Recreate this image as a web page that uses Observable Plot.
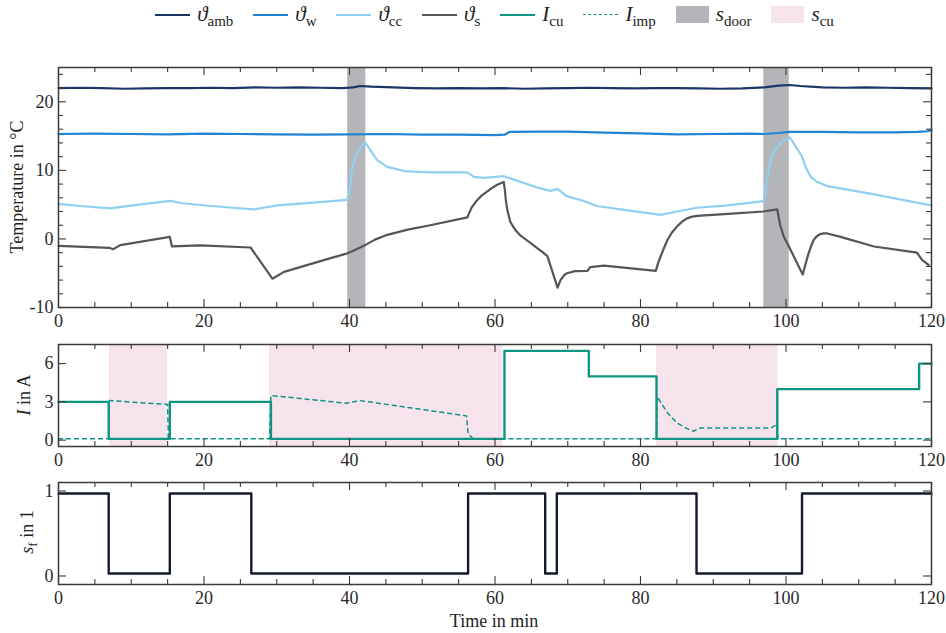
<!DOCTYPE html>
<html><head><meta charset="utf-8">
<script src="https://cdn.jsdelivr.net/npm/d3@7"></script>
<script src="https://cdn.jsdelivr.net/npm/@observablehq/plot@0.6"></script>
<style>
body{margin:0;background:#fff;}
#wrap{position:relative;width:946px;height:633px;font-family:"Liberation Serif","Times New Roman","DejaVu Serif",serif;color:#222;overflow:hidden;}
#wrap svg{position:absolute;left:0;}
#legend{position:absolute;top:2px;left:58px;width:873px;display:flex;justify-content:center;align-items:center;gap:20px;font-size:21px;}
.li{display:flex;align-items:center;gap:7px;white-space:nowrap;}
.sw{width:35px;height:0;border-top:2.5px solid;}
.box{width:33px;height:17px;}
sub{font-size:15px;vertical-align:-5px;line-height:0;}
.yl{position:absolute;font-size:18px;white-space:nowrap;transform:translate(-50%,-50%) rotate(-90deg);}
.yl sub{font-size:13px;vertical-align:-4px;}
.xl{position:absolute;font-size:18px;white-space:nowrap;transform:translate(-50%,-50%);}
</style></head><body><div id="wrap"></div>
<script>
// ---------- data ----------
const xMajorTicks = [0, 20, 40, 60, 80, 100, 120];
const tempTicks = [-10, 0, 10, 20];
const currTicks = [0, 3, 6];
const sfTicks = [0, 1];

const doorStart = [39.75, 96.95];
const doorEnd   = [42.25, 100.45];
const cuStart = [7.0, 29.0, 82.2];
const cuEnd   = [15.0, 61.1, 98.9];

const ambT = [0,3,6,9,12,15,18,21,24,27,30,33,36,39,40.5,41.5,43,46,49,52,55,58,61,64,67,70,73,76,79,82,85,88,91,94,97,99,100.5,102,105,108,111,114,117,120];
const ambV = [22.0,22.05,22.0,21.9,21.95,22.0,22.0,22.05,22.0,22.1,22.05,22.1,22.05,22.0,22.1,22.3,22.2,22.1,22.0,21.95,22.0,21.95,22.0,21.9,21.95,22.0,22.05,22.0,21.95,22.0,22.0,21.95,21.9,21.95,22.1,22.35,22.45,22.3,22.1,22.05,22.1,22.05,22.0,21.95];

const wT = [0,5,10,15,20,25,30,35,40,45,50,55,60,61.3,62,66,70,75,80,85,90,95,97,99,100.5,105,110,115,118,119.5,120];
const wV = [15.3,15.35,15.3,15.25,15.35,15.3,15.25,15.2,15.25,15.3,15.2,15.2,15.15,15.2,15.6,15.65,15.65,15.5,15.4,15.25,15.3,15.35,15.3,15.45,15.6,15.6,15.55,15.55,15.6,15.7,15.9];

const ccT = [0,3,7.1,11,15.4,17,21,26.8,30.1,35,39.7,40.1,40.3,40.8,41.5,42.2,42.9,43.8,45.2,47.5,51.1,56.2,57.1,58.5,61.2,63.0,65.8,67.6,68.6,69.9,72,74,78,82.8,85,87.8,92,96.95,97.3,98.0,99.2,100.5,101.5,102.2,102.7,103.4,104.3,105.7,111.6,116,120];
const ccV = [5.1,4.8,4.45,5.0,5.55,5.2,4.8,4.3,4.9,5.3,5.7,7.6,10.0,12.0,13.4,14.0,12.9,11.5,10.5,9.9,9.7,9.7,9.05,8.9,9.15,8.5,7.5,7.0,7.3,6.2,5.6,4.8,4.2,3.5,4.0,4.55,4.9,5.5,8.1,12.0,14.0,14.85,13.2,12.0,10.5,9.05,8.3,7.7,6.6,5.7,4.9];

const sT = [0,7.0,7.5,8.5,15.3,15.6,19.5,26.4,29.4,31,37.4,39.7,40.6,42.2,43.5,45.2,48,51.1,
  56.2,56.5,56.8,57.5,58.2,58.9,59.6,60.3,61.2,61.35,61.5,61.7,62.1,62.5,62.8,63.4,64.0,65.0,65.8,66.5,67.2,68.6,69.0,69.5,69.9,71,72.7,73.1,75,
  82.1,82.4,82.75,83.2,83.7,84.3,85.0,85.7,86.4,87.1,87.8,92,96.9,98.8,99.2,99.7,100.3,101.1,101.7,102.3,102.7,103.1,103.5,103.8,104.2,104.7,105.2,105.7,107.5,112.1,118.0,118.7,119.6];
const sV = [-1.0,-1.3,-1.5,-0.9,0.3,-1.1,-0.95,-1.25,-5.8,-4.8,-2.8,-2.1,-1.7,-0.87,-0.1,0.6,1.35,2.0,
  3.15,3.9,4.6,5.6,6.35,6.9,7.45,7.9,8.3,7.2,5.6,4.2,2.5,1.8,1.3,0.6,0.1,-0.7,-1.35,-1.9,-2.5,-7.1,-6.0,-5.3,-5.0,-4.7,-4.65,-4.1,-3.9,
  -4.65,-3.6,-2.6,-1.4,-0.15,0.9,1.8,2.5,3.0,3.25,3.35,3.65,4.0,4.3,2.0,0.33,-0.9,-2.6,-3.9,-5.2,-3.6,-2.1,-0.9,-0.15,0.35,0.7,0.8,0.8,0.3,-1.1,-2.0,-3.05,-3.8];

const icuT = [0,6.9,15.3,29.2,61.3,72.9,82.2,98.8,118.3,120];
const icuV = [3,0.1,3,0.1,7,5,0.1,4,6,6];

const impT = [0,6.9,7.0,15.0,15.1,29.0,29.2,39.5,41.5,56.1,56.3,57.0,82.2,82.3,83.7,85.0,86.4,87.3,88.2,97.9,98.8,98.9,120];
const impV = [0.1,0.1,3.1,2.8,0.1,0.1,3.5,2.9,3.1,1.9,0.5,0.1,0.1,3.4,2.15,1.35,0.9,0.7,0.95,0.95,1.22,0.1,0.1];

const sfT = [0,6.9,15.3,26.5,56.3,66.9,68.5,87.7,102.2,120];
const sfV = [0.97,0.03,0.97,0.03,0.97,0.03,0.97,0.03,0.97,0.97];

// ---------- helpers ----------
const C = {amb:"#1b3566", w:"#2183d3", cc:"#8fd0f1", s:"#555559", cu:"#0f9682", door:"#b4b5b9", scu:"#f6e3ec", sf:"#141a2e", frame:"#3a3a3a"};
const FONT = '"Liberation Serif", "Times New Roman", "DejaVu Serif", serif';
const pts = (T, V) => T.map((t, i) => ({t, v: V[i]}));
const ivals = (S, E) => S.map((s, i) => ({s, e: E[i]}));
const xMinor = d3.range(0, 121, 5).filter(d => !xMajorTicks.includes(d));
const W = 946, ML = 58, MR = 15;
const FW = W - ML - MR;
const fmt = d => String(d);

function frameTicks(fh, yMaj, yMin) {
  const s = {stroke: C.frame, strokeWidth: 1.1};
  const m = [
    Plot.tickX(xMajorTicks, {x: d => d, insetTop: fh - 8, ...s}),
    Plot.tickX(xMajorTicks, {x: d => d, insetBottom: fh - 8, ...s}),
    Plot.tickX(xMinor, {x: d => d, insetTop: fh - 5, ...s}),
    Plot.tickX(xMinor, {x: d => d, insetBottom: fh - 5, ...s}),
    Plot.tickY(yMaj, {y: d => d, insetRight: FW - 8, ...s}),
    Plot.tickY(yMaj, {y: d => d, insetLeft: FW - 8, ...s}),
  ];
  if (yMin.length) {
    m.push(Plot.tickY(yMin, {y: d => d, insetRight: FW - 5, ...s}));
    m.push(Plot.tickY(yMin, {y: d => d, insetLeft: FW - 5, ...s}));
  }
  return m;
}
function axes(yMaj) {
  return [
    Plot.axisX(xMajorTicks, {anchor: "bottom", tickSize: 0, tickPadding: 7, fontSize: 18, label: null, fill: "#2a2a2a", tickFormat: fmt, fontFamily: FONT}),
    Plot.axisY(yMaj, {anchor: "left", tickSize: 0, tickPadding: 5, fontSize: 18, label: null, fill: "#2a2a2a", tickFormat: fmt, fontFamily: FONT}),
  ];
}
const common = {width: W, marginLeft: ML, marginRight: MR, style: {fontFamily: FONT, fontSize: "18px", background: "transparent", overflow: "visible"}};
const xScale = {domain: [0, 120]};

const wrap = document.getElementById("wrap");

// ---------- panel 1 ----------
const tDom = [-10, 25];
const p1 = Plot.plot({
  ...common, height: 335, marginTop: 67, marginBottom: 28,
  x: xScale, y: {domain: tDom},
  marks: [
    Plot.rect(ivals(doorStart, doorEnd), {x1: "s", x2: "e", y1: () => tDom[0], y2: () => tDom[1], fill: C.door}),
    Plot.line(pts(ambT, ambV), {x: "t", y: "v", stroke: C.amb, strokeWidth: 2.2}),
    Plot.line(pts(wT, wV), {x: "t", y: "v", stroke: C.w, strokeWidth: 2.2}),
    Plot.line(pts(ccT, ccV), {x: "t", y: "v", stroke: C.cc, strokeWidth: 2.2}),
    Plot.line(pts(sT, sV), {x: "t", y: "v", stroke: C.s, strokeWidth: 2.2}),
    Plot.frame({stroke: C.frame, strokeWidth: 1.5}),
    ...frameTicks(240, tempTicks, d3.range(-10, 25.1, 2).filter(d => !tempTicks.includes(d))),
    ...axes(tempTicks)
  ]
});
p1.style.top = "0px";
wrap.appendChild(p1);

// ---------- panel 2 ----------
const iDom = [-0.5, 7.5];
const p2 = Plot.plot({
  ...common, height: 135, marginTop: 9, marginBottom: 24,
  x: xScale, y: {domain: iDom},
  marks: [
    Plot.rect(ivals(cuStart, cuEnd), {x1: "s", x2: "e", y1: () => iDom[0], y2: () => iDom[1], fill: C.scu}),
    Plot.line(pts(impT, impV), {x: "t", y: "v", stroke: C.cu, strokeWidth: 1.5, strokeDasharray: "4,4"}),
    Plot.line(pts(icuT, icuV), {x: "t", y: "v", stroke: C.cu, strokeWidth: 2.4, curve: "step-after"}),
    Plot.frame({stroke: C.frame, strokeWidth: 1.5}),
    ...frameTicks(102, currTicks, []),
    ...axes(currTicks)
  ]
});
p2.style.top = "335px";
wrap.appendChild(p2);

// ---------- panel 3 ----------
const fDom = [-0.1, 1.1];
const p3 = Plot.plot({
  ...common, height: 163, marginTop: 12, marginBottom: 49,
  x: xScale, y: {domain: fDom},
  marks: [
    Plot.line(pts(sfT, sfV), {x: "t", y: "v", stroke: C.sf, strokeWidth: 2.4, curve: "step-after"}),
    Plot.frame({stroke: C.frame, strokeWidth: 1.5}),
    ...frameTicks(102, sfTicks, []),
    ...axes(sfTicks)
  ]
});
p3.style.top = "470px";
wrap.appendChild(p3);

// ---------- legend & labels ----------
const legendItems = [
  {html: "<i>ϑ</i><sub>amb</sub>", type: "line", color: C.amb},
  {html: "<i>ϑ</i><sub>w</sub>", type: "line", color: C.w},
  {html: "<i>ϑ</i><sub>cc</sub>", type: "line", color: C.cc},
  {html: "<i>ϑ</i><sub>s</sub>", type: "line", color: C.s},
  {html: "<i>I</i><sub>cu</sub>", type: "line", color: C.cu},
  {html: "<i>I</i><sub>imp</sub>", type: "dash", color: C.cu},
  {html: "<i>s</i><sub>door</sub>", type: "box", color: C.door},
  {html: "<i>s</i><sub>cu</sub>", type: "box", color: C.scu},
];
const leg = document.createElement("div");
leg.id = "legend";
leg.innerHTML = legendItems.map(d => {
  const sw = d.type === "box" ? `<span class="box" style="background:${d.color}"></span>`
    : `<span class="sw" style="border-top-color:${d.color};${d.type === "dash" ? "border-top-style:dashed;border-top-width:1.5px;" : ""}"></span>`;
  return `<span class="li">${sw}<span>${d.html}</span></span>`;
}).join("");
wrap.appendChild(leg);

function label(cls, html, x, y) {
  const el = document.createElement("div");
  el.className = cls; el.innerHTML = html;
  el.style.left = x + "px"; el.style.top = y + "px";
  wrap.appendChild(el);
}
label("yl", "Temperature in °C", 17, 187);
label("yl", "<i>I</i> in A", 24, 395);
label("yl", "<i>s</i><sub>f</sub> in 1", 27, 532);
label("xl", "Time in min", 494, 621);
</script></body></html>
